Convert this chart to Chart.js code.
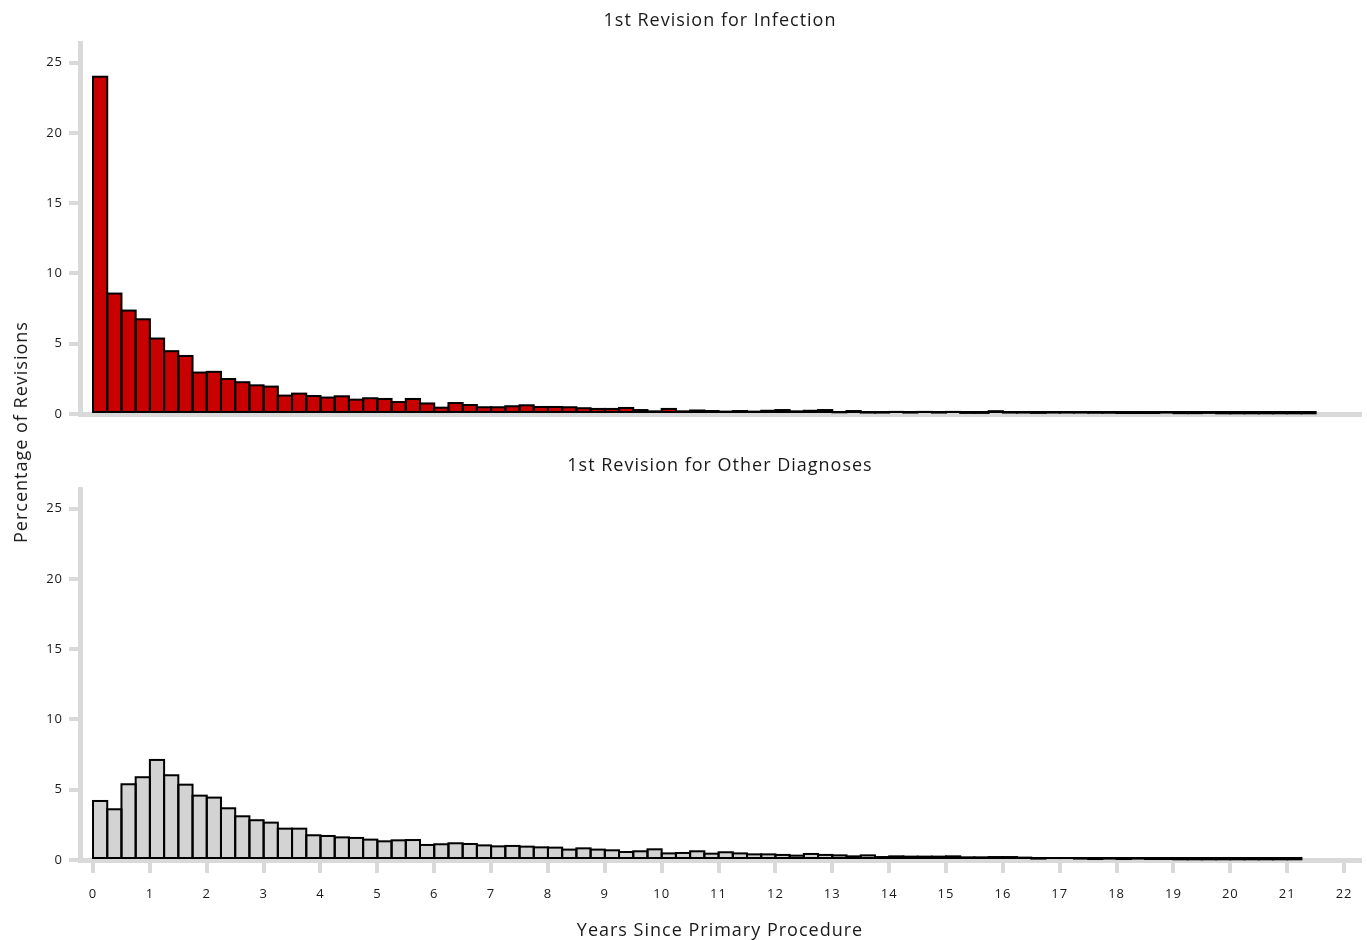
<!DOCTYPE html>
<html>
<head>
<meta charset="utf-8">
<script src="https://cdn.jsdelivr.net/npm/chart.js@4.4.1/dist/chart.umd.min.js"></script>
<style>
  html, body { margin: 0; padding: 0; background: #ffffff; }
  body { width: 1367px; height: 940px; position: relative; overflow: hidden; font-family: "Open Sans", sans-serif; }
  .panel { position: absolute; left: 0; width: 1367px; }
  #top { top: 0; height: 440px; }
  #bottom { top: 440px; height: 502px; }
  #ylabel { position: absolute; left: 20px; top: 432px; transform: translate(-50%, -50%) rotate(-90deg); white-space: nowrap; font-size: 18px; letter-spacing: 1px; color: #1a1a1a; }
</style>
</head>
<body>
<div class="panel" id="top"><canvas id="c1" width="1367" height="440"></canvas></div>
<div class="panel" id="bottom"><canvas id="c2" width="1367" height="502"></canvas></div>
<div id="ylabel">Percentage of Revisions</div>
<script>
// ---- Data (percentage of revisions per quarter-year bin since primary procedure) ----
const binWidthYears = 0.25;
const xTickYears = [0,1,2,3,4,5,6,7,8,9,10,11,12,13,14,15,16,17,18,19,20,21,22];
const yTickValues = [0,5,10,15,20,25];
const titleInfection = "1st Revision for Infection";
const titleOther = "1st Revision for Other Diagnoses";
const xAxisTitle = "Years Since Primary Procedure";
const infectionPct = [
  24.0, 8.57, 7.36, 6.74, 5.37, 4.47, 4.13, 2.95, 3.0, 2.49, 2.26, 2.04,
  1.95, 1.31, 1.45, 1.28, 1.17, 1.26, 1.02, 1.12, 1.07, 0.85, 1.07, 0.75,
  0.45, 0.78, 0.64, 0.48, 0.48, 0.55, 0.62, 0.5, 0.5, 0.48, 0.41, 0.36,
  0.36, 0.43, 0.28, 0.19, 0.36, 0.19, 0.25, 0.21, 0.17, 0.21, 0.17, 0.23,
  0.28, 0.19, 0.23, 0.28, 0.12, 0.21, 0.1, 0.1,
  0.15, 0.1, 0.15, 0.1, 0.15, 0.08, 0.08, 0.2, 0.1, 0.1, 0.08, 0.1,
  0.1, 0.1, 0.09, 0.09, 0.07, 0.07, 0.07, 0.1, 0.06, 0.06, 0.08, 0.05,
  0.05, 0.05, 0.05, 0.05, 0.05, 0.05
];
const otherPct = [
  4.2, 3.61, 5.39, 5.89, 7.12, 6.03, 5.36, 4.58, 4.44, 3.68, 3.11, 2.83,
  2.66, 2.23, 2.23, 1.76, 1.71, 1.61, 1.57, 1.45, 1.33, 1.40, 1.42,
  1.07, 1.12, 1.19, 1.14, 1.04, 0.97, 1.0, 0.95, 0.9, 0.88, 0.74, 0.83,
  0.74, 0.69, 0.57, 0.62, 0.76, 0.47, 0.5, 0.62, 0.45, 0.55, 0.47, 0.4,
  0.4, 0.36, 0.31, 0.43, 0.36, 0.33, 0.26, 0.33, 0.21, 0.26,
  0.24, 0.24, 0.24, 0.26, 0.19, 0.19, 0.21, 0.21, 0.17, 0.1, 0.14, 0.14,
  0.1, 0.07, 0.1, 0.07, 0.1, 0.07, 0.07, 0.05, 0.05, 0.05, 0.05, 0.05,
  0.05, 0.05, 0.05, 0.05
];

// ---- Styling ----
const FONT = '"Open Sans", sans-serif';
const AXIS_GREY = '#d9d9d9';
const TEXT = '#1a1a1a';
const X_MIN = -0.229, X_MAX = 22.28, Y_MAX = 26.4;

function toPoints(values) {
  return values.map((v, i) => ({ x: i * binWidthYears + binWidthYears / 2, y: v }));
}

function keepTicks(list) {
  return function (scale) {
    scale.ticks = list.map(v => ({ value: v }));
  };
}

// Letter spacing for all canvas text (to mimic the wider original typeface)
const spacingPlugin = {
  id: 'spacing',
  beforeInit(chart) { chart.ctx.letterSpacing = '1px'; },
  beforeUpdate(chart) { chart.ctx.letterSpacing = '1px'; },
  beforeDraw(chart) { chart.ctx.letterSpacing = '1px'; }
};

// Outline each bar with a centred black stroke (as in the original), using the
// geometry that Chart.js computed for the bar elements.
const outlinePlugin = {
  id: 'barOutline',
  afterDatasetsDraw(chart) {
    const ctx = chart.ctx;
    ctx.save();
    ctx.strokeStyle = '#000000';
    ctx.lineWidth = 2;
    chart.getSortedVisibleDatasetMetas().forEach(meta => {
      meta.data.forEach(el => {
        const p = el.getProps(['x', 'y', 'base', 'width'], true);
        ctx.strokeRect(p.x - p.width / 2, p.y, p.width, p.base - p.y);
      });
    });
    ctx.restore();
  }
};

function makeChart(canvasId, values, fill, title, titlePad, showXLabels, chartBottom, canvasH) {
  return new Chart(document.getElementById(canvasId), {
    type: 'bar',
    plugins: [spacingPlugin, outlinePlugin],
    data: {
      datasets: [{
        data: toPoints(values),
        backgroundColor: fill,
        borderWidth: 0,
        barPercentage: 1.0,
        categoryPercentage: 1.0
      }]
    },
    options: {
      responsive: false,
      animation: false,
      devicePixelRatio: 1,
      layout: { padding: { left: 0, right: 7, top: 0, bottom: 0 } },
      plugins: {
        legend: { display: false },
        tooltip: { enabled: false },
        title: {
          display: true,
          fullSize: false,
          text: title,
          color: TEXT,
          font: { family: FONT, size: 18, weight: 'normal', lineHeight: 1.2 },
          padding: titlePad
        }
      },
      scales: {
        x: {
          type: 'linear',
          min: X_MIN,
          max: X_MAX,
          offset: false,
          afterBuildTicks: keepTicks(xTickYears),
          afterFit: s => { s.height = canvasH - chartBottom; },
          grid: {
            display: showXLabels,
            drawOnChartArea: false,
            drawTicks: true,
            offset: false,
            tickLength: 13,
            color: AXIS_GREY,
            lineWidth: 4
          },
          border: { display: true, color: AXIS_GREY, width: 5 },
          ticks: {
            display: showXLabels,
            autoSkip: false,
            maxRotation: 0,
            padding: 13,
            color: TEXT,
            font: { family: FONT, size: 13 }
          },
          title: {
            display: showXLabels,
            text: xAxisTitle,
            color: TEXT,
            font: { family: FONT, size: 18 },
            padding: { top: 0, bottom: 0 }
          }
        },
        y: {
          type: 'linear',
          min: 0,
          max: Y_MAX,
          afterBuildTicks: keepTicks(yTickValues),
          afterFit: s => { s.width = 80; },
          grid: {
            drawOnChartArea: false,
            drawTicks: true,
            tickLength: 11,
            color: AXIS_GREY,
            lineWidth: 4
          },
          border: { display: true, color: AXIS_GREY, width: 5 },
          ticks: {
            padding: 6,
            color: TEXT,
            font: { family: FONT, size: 13 }
          }
        }
      }
    }
  });
}

makeChart('c1', infectionPct, '#c80000', titleInfection, { top: 10.2, bottom: 11.2 }, false, 414, 440);
makeChart('c2', otherPct, '#d3d3d3', titleOther, { top: 15.2, bottom: 12.2 }, true, 420, 502);
</script>
</body>
</html>
